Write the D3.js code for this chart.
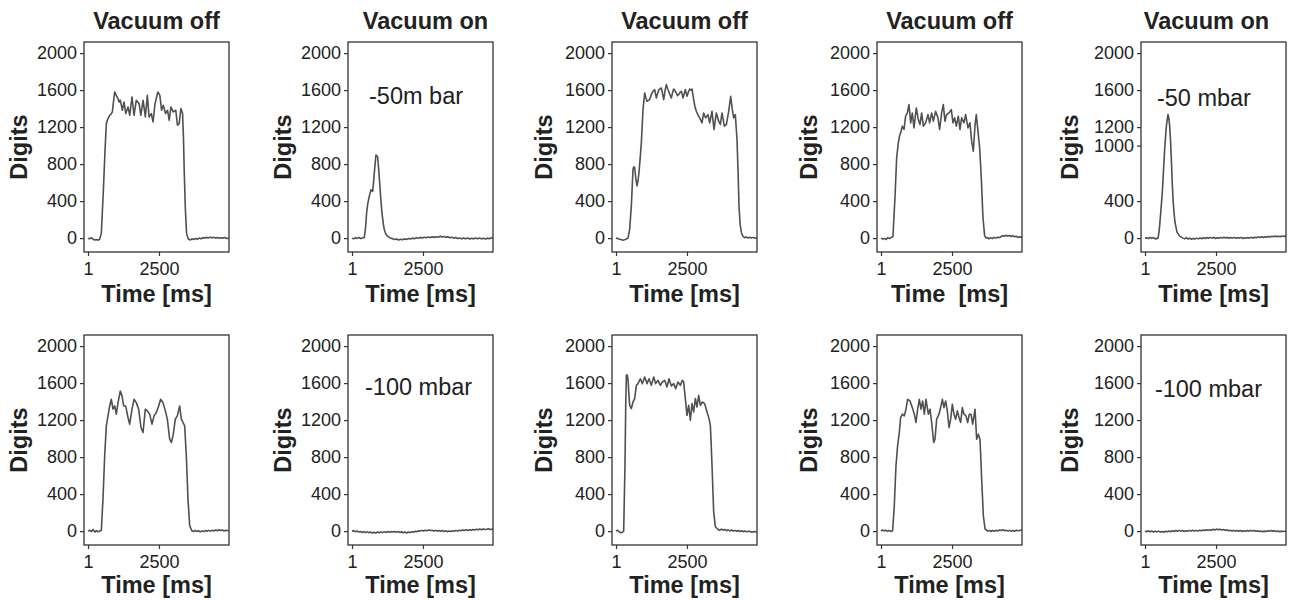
<!DOCTYPE html>
<html>
<head>
<meta charset="utf-8">
<script src="https://cdn.jsdelivr.net/npm/d3@7/dist/d3.min.js"></script>
<style>
  html, body { margin: 0; padding: 0; background: #fff; }
  svg text { font-family: "Liberation Sans", Arial, Helvetica, sans-serif; fill: #222; }
</style>
</head>
<body>
<svg id="chart" width="1290" height="600"></svg>
<script>
// ---------------- data ----------------
const panelTitles = ["Vacuum off", "Vacuum on", "Vacuum off", "Vacuum off", "Vacuum on"];
const xTickValues = [1, 2500];
const yTickValues = [0, 400, 800, 1200, 1600, 2000];
const yTickValuesAlt = [0, 400, 1000, 1200, 1600, 2000];
const xLabels = ["Time [ms]", "Time [ms]", "Time [ms]", "Time\u00A0\u00A0[ms]", "Time [ms]",
                 "Time [ms]", "Time [ms]", "Time [ms]", "Time [ms]", "Time [ms]"];
const annotations = ["", "-50m bar", "", "", "-50 mbar", "", "-100 mbar", "", "", "-100 mbar"];

// series: [time ms, digits]
const topOff1 = [[0,0],[60,-8],[120,5],[180,-12],[240,-20],[300,-15],[360,-22],[412,-10],[470,54],[540,500],[600,950],[647,1238],[700,1290],[764,1328],[810,1340],[858,1364],[900,1480],[940,1580],[1000,1540],[1057,1508],[1100,1470],[1140,1490],[1210,1382],[1270,1472],[1330,1346],[1410,1418],[1470,1328],[1550,1526],[1620,1328],[1700,1490],[1800,1454],[1860,1328],[1940,1490],[2020,1310],[2090,1544],[2150,1310],[2230,1346],[2290,1256],[2360,1454],[2460,1580],[2530,1544],[2590,1382],[2650,1436],[2730,1346],[2800,1382],[2860,1274],[2920,1418],[3000,1364],[3090,1382],[3150,1220],[3210,1238],[3270,1400],[3330,1346],[3360,1100],[3390,700],[3430,300],[3470,54],[3530,-10],[3600,-20],[3660,-8],[3720,-15],[3790,-5],[3850,-12],[3910,0],[3980,-8],[4040,5],[4100,0],[4170,8],[4230,2],[4300,10],[4360,5],[4430,8],[4490,0],[4560,6],[4620,-2],[4690,5],[4750,0],[4820,8],[4880,-5],[4960,2]];
const topOn1 = [[0,0],[60,-8],[120,5],[180,-3],[240,8],[300,-5],[360,2],[433,5],[480,120],[515,272],[560,380],[609,451],[668,523],[727,505],[760,600],[785,702],[844,899],[903,880],[945,720],[985,558],[1020,400],[1056,272],[1100,160],[1137,93],[1190,45],[1253,21],[1330,5],[1430,-7],[1500,-15],[1570,-10],[1640,-20],[1710,-12],[1780,-18],[1850,-8],[1920,-14],[1990,-5],[2060,-10],[2130,0],[2200,-6],[2270,5],[2340,-2],[2410,8],[2480,2],[2550,10],[2620,4],[2690,12],[2760,6],[2830,15],[2900,8],[2970,14],[3040,10],[3110,22],[3160,12],[3230,18],[3300,8],[3370,14],[3440,4],[3510,10],[3580,0],[3650,6],[3720,-5],[3790,2],[3860,-8],[3930,0],[4000,-6],[4070,2],[4140,-10],[4210,-2],[4280,-8],[4350,0],[4420,-6],[4490,2],[4560,-8],[4630,-2],[4700,-10],[4770,0],[4840,-6],[4910,4],[4960,-2]];
const topOff2 = [[0,0],[60,-5],[120,-12],[180,-15],[240,-22],[300,-18],[360,-10],[424,0],[482,97],[541,348],[599,743],[630,770],[658,761],[700,640],[740,564],[775,620],[810,707],[850,860],[893,1030],[951,1389],[1010,1569],[1050,1520],[1092,1479],[1140,1490],[1186,1497],[1230,1540],[1268,1569],[1320,1590],[1362,1605],[1420,1515],[1470,1570],[1514,1605],[1597,1623],[1640,1560],[1679,1497],[1730,1600],[1773,1659],[1810,1620],[1855,1587],[1900,1550],[1949,1515],[1990,1570],[2031,1612],[2080,1590],[2125,1569],[2165,1540],[2207,1551],[2255,1575],[2301,1587],[2360,1515],[2400,1560],[2442,1605],[2501,1533],[2550,1580],[2594,1612],[2640,1600],[2676,1612],[2735,1497],[2780,1420],[2829,1371],[2890,1330],[2946,1300],[3028,1246],[3087,1353],[3157,1300],[3239,1335],[3298,1246],[3380,1371],[3450,1174],[3533,1353],[3615,1264],[3673,1228],[3732,1353],[3814,1210],[3885,1228],[3967,1371],[4037,1533],[4096,1389],[4143,1300],[4201,1335],[4260,1066],[4300,700],[4330,348],[4370,150],[4414,61],[4472,18],[4530,5],[4590,12],[4650,2],[4710,10],[4770,0],[4830,8],[4900,-2],[4960,5]];
const topOff3 = [[0,0],[60,-10],[120,-5],[180,-15],[240,5],[300,-5],[360,8],[422,15],[460,250],[493,438],[552,869],[610,1030],[650,1100],[692,1138],[751,1210],[810,1174],[868,1318],[927,1353],[986,1443],[1045,1246],[1103,1353],[1162,1192],[1244,1407],[1314,1282],[1373,1228],[1432,1353],[1490,1210],[1572,1246],[1654,1335],[1713,1246],[1783,1353],[1842,1264],[1924,1371],[2006,1300],[2065,1174],[2135,1353],[2194,1443],[2252,1264],[2311,1335],[2393,1353],[2475,1389],[2534,1246],[2593,1300],[2651,1210],[2722,1318],[2780,1174],[2839,1300],[2921,1246],[2980,1335],[3062,1192],[3132,1246],[3191,1048],[3250,940],[3308,1210],[3355,1335],[3414,1156],[3473,977],[3531,653],[3590,223],[3649,25],[3700,0],[3743,7],[3800,-8],[3860,5],[3920,-5],[3980,8],[4040,0],[4100,10],[4160,5],[4220,15],[4280,25],[4340,20],[4400,30],[4460,22],[4520,28],[4580,18],[4640,25],[4700,15],[4760,20],[4820,8],[4900,15],[4960,5]];
const topOn2 = [[0,0],[60,5],[120,-5],[180,8],[240,-3],[300,6],[360,-8],[458,0],[490,60],[517,136],[560,300],[611,495],[650,720],[693,960],[752,1211],[810,1337],[840,1300],[869,1211],[900,1050],[928,853],[960,600],[986,423],[1020,280],[1056,172],[1127,65],[1221,21],[1338,0],[1400,-8],[1460,5],[1520,-10],[1580,0],[1640,-12],[1700,-3],[1760,-10],[1820,0],[1880,-8],[1940,2],[2000,-6],[2060,4],[2120,-4],[2180,6],[2240,-2],[2300,8],[2360,0],[2420,6],[2480,-4],[2540,5],[2600,-2],[2660,8],[2720,0],[2780,10],[2840,2],[2900,8],[2960,-2],[3020,6],[3080,0],[3140,8],[3200,-2],[3260,5],[3320,0],[3380,8],[3440,-4],[3500,4],[3560,-2],[3620,6],[3680,0],[3740,8],[3800,2],[3860,10],[3920,4],[3980,12],[4040,6],[4100,14],[4160,8],[4220,15],[4280,10],[4340,18],[4400,12],[4460,20],[4520,14],[4580,22],[4640,16],[4700,20],[4760,14],[4820,22],[4880,18],[4960,25]];
const botOff1 = [[0,0],[60,10],[120,-5],[180,18],[240,-10],[300,5],[360,-8],[420,2],[471,10],[528,348],[588,815],[646,1138],[705,1246],[764,1353],[822,1425],[881,1318],[940,1353],[998,1264],[1057,1389],[1139,1515],[1198,1461],[1257,1353],[1327,1353],[1409,1228],[1468,1156],[1550,1318],[1620,1425],[1702,1389],[1784,1318],[1866,1120],[1937,1066],[2019,1318],[2089,1300],[2172,1264],[2254,1156],[2324,1246],[2406,1282],[2488,1353],[2559,1425],[2641,1389],[2723,1300],[2793,1210],[2876,994],[2934,958],[2993,1030],[3075,1210],[3145,1246],[3227,1353],[3286,1210],[3344,1174],[3403,1138],[3462,815],[3520,348],[3579,61],[3650,7],[3710,-5],[3770,8],[3830,-3],[3890,5],[3950,-8],[4010,3],[4070,-5],[4130,6],[4190,-2],[4250,8],[4310,0],[4370,10],[4430,2],[4490,12],[4550,4],[4610,15],[4670,6],[4730,12],[4790,2],[4850,10],[4960,4]];
const botOn1 = [[0,0],[60,5],[120,-6],[180,2],[240,-10],[300,-3],[360,-14],[420,-6],[480,-16],[540,-8],[600,-18],[660,-10],[720,-22],[780,-12],[840,-20],[900,-10],[960,-18],[1020,-8],[1080,-16],[1140,-8],[1200,-14],[1260,-5],[1320,-12],[1380,-4],[1440,-10],[1500,-3],[1560,-12],[1620,-5],[1680,-14],[1740,-6],[1800,-18],[1860,-8],[1920,-20],[1980,-10],[2040,-16],[2100,-6],[2160,-12],[2220,-2],[2280,-6],[2340,4],[2400,0],[2460,8],[2520,2],[2580,10],[2640,4],[2700,12],[2760,6],[2820,10],[2880,2],[2940,8],[3000,0],[3060,6],[3120,-2],[3180,6],[3240,-4],[3300,4],[3360,-6],[3420,2],[3480,-4],[3540,4],[3600,-2],[3660,8],[3720,0],[3780,10],[3840,4],[3900,12],[3960,6],[4020,14],[4080,8],[4140,16],[4200,10],[4260,18],[4320,12],[4380,20],[4440,14],[4500,22],[4560,16],[4620,24],[4680,18],[4740,20],[4800,26],[4860,18],[4960,22]];
const botOff2 = [[0,0],[50,10],[110,-7],[170,-18],[230,-12],[271,0],[317,712],[345,1400],[366,1683],[390,1690],[422,1647],[450,1500],[482,1360],[541,1324],[599,1396],[658,1432],[717,1576],[776,1594],[858,1647],[927,1594],[1010,1665],[1092,1594],[1162,1647],[1244,1576],[1327,1665],[1397,1594],[1479,1630],[1561,1576],[1632,1612],[1714,1630],[1796,1558],[1866,1647],[1949,1568],[2031,1594],[2101,1540],[2183,1612],[2265,1576],[2336,1630],[2383,1612],[2441,1432],[2500,1252],[2559,1360],[2618,1198],[2676,1378],[2735,1288],[2794,1432],[2852,1342],[2911,1468],[2970,1360],[3040,1396],[3122,1378],[3204,1288],[3275,1216],[3322,1144],[3350,950],[3380,712],[3439,209],[3498,47],[3592,18],[3650,8],[3710,22],[3770,10],[3830,18],[3890,5],[3950,14],[4010,2],[4070,12],[4130,0],[4190,8],[4250,-2],[4310,6],[4370,-4],[4430,4],[4490,-6],[4550,2],[4610,-8],[4670,0],[4730,-6],[4790,-12],[4850,-4],[4960,-10]];
const botOff3 = [[0,0],[50,14],[110,2],[170,10],[230,-2],[290,6],[350,-3],[410,4],[469,276],[528,707],[586,923],[645,1066],[692,1228],[751,1264],[821,1246],[880,1318],[938,1425],[1021,1407],[1103,1335],[1173,1264],[1232,1174],[1291,1318],[1350,1425],[1408,1318],[1467,1407],[1526,1264],[1585,1425],[1667,1264],[1726,1318],[1784,1174],[1855,958],[1902,994],[1960,1210],[2042,1264],[2113,1353],[2160,1425],[2218,1335],[2277,1407],[2336,1300],[2394,1120],[2453,1210],[2512,1371],[2570,1264],[2629,1210],[2688,1300],[2746,1228],[2805,1174],[2864,1335],[2922,1264],[2993,1246],[3052,1174],[3110,1264],[3169,1264],[3228,1156],[3310,1318],[3368,994],[3427,1048],[3486,994],[3544,564],[3603,169],[3662,25],[3756,0],[3810,8],[3870,-4],[3930,6],[3990,-2],[4050,10],[4110,2],[4170,12],[4230,6],[4290,14],[4350,4],[4410,10],[4470,0],[4530,8],[4590,-2],[4650,6],[4710,0],[4770,10],[4830,4],[4960,12]];
const botOn2 = [[0,0],[60,-6],[120,4],[180,-8],[240,2],[300,-10],[360,-2],[420,-8],[480,0],[540,-10],[600,-4],[660,-12],[720,-2],[780,-8],[840,2],[900,-6],[960,4],[1020,-4],[1080,6],[1140,-2],[1200,8],[1260,0],[1320,6],[1380,-4],[1440,4],[1500,-2],[1560,8],[1620,0],[1680,10],[1740,2],[1800,8],[1860,0],[1920,10],[1980,4],[2040,12],[2100,6],[2160,14],[2220,8],[2280,16],[2340,10],[2400,20],[2460,12],[2520,22],[2580,14],[2640,20],[2700,12],[2760,18],[2820,8],[2880,14],[2940,4],[3000,10],[3060,2],[3120,8],[3180,0],[3240,6],[3300,-2],[3360,6],[3420,-4],[3480,4],[3540,-2],[3600,6],[3660,0],[3720,8],[3780,2],[3840,6],[3900,-2],[3960,4],[4020,-4],[4080,2],[4140,-6],[4200,0],[4260,-4],[4320,4],[4380,-2],[4440,6],[4500,0],[4560,4],[4620,-4],[4680,2],[4740,-6],[4800,0],[4860,-4],[4960,2]];

const seriesList = [topOff1, topOn1, topOff2, topOff3, topOn2, botOff1, botOn1, botOff2, botOff3, botOn2];

// ---------------- layout ----------------
const colLeft = [84, 348, 612, 877, 1141];
const rowTop = [42, 335];
const labelOffset = [50, 48];
const boxW = 145, boxH = 210;
const digitsOffset = [57, 57, 60, 60, 63];
const titleDx = [0, 5, 0, 0, -7];
const annotPos = { 1: [600, 1450], 4: [420, 1430], 6: [460, 1470], 9: [350, 1450] };

const svg = d3.select("#chart");
const x = d3.scaleLinear().domain([-140, 4964]).range([0, boxW]);
const y = d3.scaleLinear().domain([-150, 2120]).range([boxH, 0]);
const line = d3.line().x(d => x(d[0])).y(d => y(d[1]));

seriesList.forEach((data, i) => {
  const row = Math.floor(i / 5), col = i % 5;
  const g = svg.append("g").attr("transform", `translate(${colLeft[col]},${rowTop[row]})`);

  g.append("clipPath").attr("id", "clip" + i)
    .append("rect").attr("width", boxW).attr("height", boxH);

  // trace
  g.append("path").datum(data)
    .attr("clip-path", `url(#clip${i})`)
    .attr("d", line)
    .attr("fill", "none")
    .attr("stroke", "#505050")
    .attr("stroke-width", 1.6)
    .attr("stroke-linejoin", "round");

  // frame
  g.append("rect").attr("width", boxW).attr("height", boxH)
    .attr("fill", "none").attr("stroke", "#333").attr("stroke-width", 1.3);

  // y axis
  const ya = g.append("g").call(
    d3.axisLeft(y).tickValues(row === 0 && col === 4 ? yTickValuesAlt : yTickValues)
      .tickSize(4).tickPadding(3).tickFormat(d3.format("d")));
  ya.select(".domain").remove();
  ya.selectAll("line").attr("stroke", "#333").attr("stroke-width", 1.2);
  ya.selectAll("text").style("font-size", "18px").attr("fill", "#222");

  // x axis
  const xa = g.append("g").attr("transform", `translate(0,${boxH})`).call(
    d3.axisBottom(x).tickValues(xTickValues).tickSize(4).tickPadding(6).tickFormat(d3.format("d")));
  xa.select(".domain").remove();
  xa.selectAll("line").attr("stroke", "#333").attr("stroke-width", 1.2);
  xa.selectAll("text").style("font-size", "18px").attr("fill", "#222");

  // x label
  g.append("text").attr("x", boxW / 2).attr("y", boxH + labelOffset[row])
    .attr("text-anchor", "middle").style("font-size", "23.5px").style("font-weight", "bold")
    .style("white-space", "pre")
    .text(xLabels[i]);

  // y label
  g.append("text")
    .attr("transform", `translate(${-digitsOffset[col]},${boxH / 2}) rotate(-90)`)
    .attr("text-anchor", "middle").style("font-size", "23.5px").style("font-weight", "bold")
    .text("Digits");

  // title
  if (row === 0) {
    g.append("text").attr("x", boxW / 2 + titleDx[col]).attr("y", -13)
      .attr("text-anchor", "middle").style("font-size", "23.5px").style("font-weight", "bold")
      .text(panelTitles[col]);
  }

  // annotation
  if (annotations[i]) {
    const p = annotPos[i];
    g.append("text").attr("x", x(p[0])).attr("y", y(p[1]))
      .style("font-size", "23.5px")
      .text(annotations[i]);
  }
});
</script>
</body>
</html>
